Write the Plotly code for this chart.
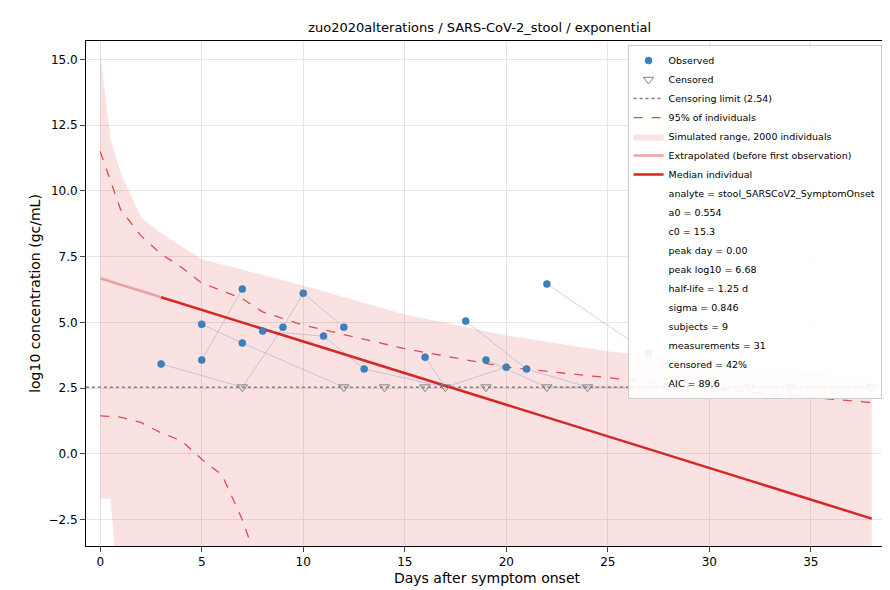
import plotly.graph_objects as go

obs_day = [3,5,5,7,7,8,9,10,11,12,13,16,18,19,20,21,22,27]
obs_val = [3.42,4.93,3.57,6.27,4.22,4.67,4.82,6.11,4.48,4.82,3.23,3.68,5.05,3.57,3.30,3.23,6.46,3.84]
cens_day = [7,12,14,16,17,19,22,24,28,32,34,38]
LOD = 2.54
subjects = [
    [(3,3.42),(7,LOD)],
    [(5,3.57),(7,6.27)],
    [(5,4.93),(7,4.22),(12,LOD)],
    [(7,LOD),(9,4.82),(10,6.11),(12,4.82)],
    [(8,4.67),(11,4.48),(13,3.23),(17,LOD),(20,3.30)],
    [(16,3.68),(17,LOD)],
    [(18,5.05),(21,3.23),(24,LOD)],
    [(19,3.57),(22,LOD),(38,LOD)],
    [(22,6.46),(27,3.84),(28,LOD)],
]
band_t = [0,0.5,1,2,3,4,5,10,15,20,25,30,35,38]
band_hi = [15.3,12.0,10.7,9.0,8.4,7.9,7.4,6.4,5.3,4.5,3.9,3.5,3.1,2.9]
band_lo = [-1.7,-1.7,-6,-6,-6,-6,-6,-6,-6,-6,-6,-6,-6,-6]
up_t = [0,1,2,3,4,5,7,8,10,15,20,25,30,35,38]
up_v = [11.5,9.3,8.3,7.6,7.1,6.5,5.9,5.4,4.9,4.0,3.3,2.9,2.5,2.15,1.95]
lo_t = [0,1,2,3,4,5,6,7,7.5]
lo_v = [1.45,1.4,1.2,0.8,0.5,-0.2,-0.8,-2.5,-3.6]
a0, c0 = 0.554, 6.68
t_med = [3,38]; t_ext = [0,3]
f = lambda t: c0 - 0.2405*t
info = ["analyte = stool_SARSCoV2_SymptomOnset","a0 = 0.554","c0 = 15.3","peak day = 0.00",
        "peak log10 = 6.68","half-life = 1.25 d","sigma = 0.846","subjects = 9",
        "measurements = 31","censored = 42%","AIC = 89.6"]

fig = go.Figure()
fig.add_trace(go.Scatter(x=band_t+band_t[::-1], y=band_hi+band_lo[::-1], fill='toself',
    fillcolor='rgba(230,110,110,0.2)', line=dict(width=0), name='Simulated range, 2000 individuals', legendrank=5))
for s in subjects:
    fig.add_trace(go.Scatter(x=[p[0] for p in s], y=[p[1] for p in s], mode='lines',
        line=dict(color='rgba(120,150,190,0.4)', width=1), showlegend=False, hoverinfo='skip'))
fig.add_trace(go.Scatter(x=[-1,40], y=[LOD,LOD], mode='lines', line=dict(color='gray', dash='dot', width=1.5),
    name='Censoring limit (2.54)', legendrank=3))
fig.add_trace(go.Scatter(x=up_t, y=up_v, mode='lines', line=dict(color='#e34a4a', dash='dash', width=1.3),
    name='95% of individuals', legendrank=4))
fig.add_trace(go.Scatter(x=lo_t, y=lo_v, mode='lines', line=dict(color='#e34a4a', dash='dash', width=1.3),
    showlegend=False))
fig.add_trace(go.Scatter(x=t_ext, y=[f(t) for t in t_ext], mode='lines', line=dict(color='#f0a0a0', width=2.5),
    name='Extrapolated (before first observation)', legendrank=6))
fig.add_trace(go.Scatter(x=t_med, y=[f(t) for t in t_med], mode='lines', line=dict(color='#d62728', width=2.5),
    name='Median individual', legendrank=7))
fig.add_trace(go.Scatter(x=obs_day, y=obs_val, mode='markers', marker=dict(color='#3a82c0', size=7,
    line=dict(color='#2a6aa0', width=0.5)), name='Observed', legendrank=1))
fig.add_trace(go.Scatter(x=cens_day, y=[LOD]*len(cens_day), mode='markers', marker=dict(symbol='triangle-down-open',
    color='gray', size=9), name='Censored', legendrank=2))
for i, t in enumerate(info):
    fig.add_trace(go.Scatter(x=[None], y=[None], mode='lines', line=dict(width=0, color='rgba(0,0,0,0)'),
        name=t, legendrank=8+i))

fig.update_layout(width=890, height=590, template='plotly_white', plot_bgcolor='white',
    margin=dict(l=78, r=10, t=33, b=52),
    title=dict(text='zuo2020alterations / SARS-CoV-2_stool / exponential', x=0.53, y=0.975,
               font=dict(size=13, color='black', family='DejaVu Sans')),
    font=dict(family='DejaVu Sans', size=12, color='black'),
    legend=dict(x=0.992, y=0.992, xanchor='right', yanchor='top', bgcolor='rgba(255,255,255,0.9)',
        bordercolor='#cccccc', borderwidth=1, font=dict(size=9.5), tracegroupgap=0, itemwidth=30))
fig.update_xaxes(range=[-0.7,38.8], dtick=5, title=dict(text='Days after symptom onset', standoff=4),
    showline=True, linecolor='black', mirror=True, ticks='outside', gridcolor='#e5e5e5', zeroline=False, automargin=False)
fig.update_yaxes(range=[-3.5,15.7], tickvals=[-2.5,0,2.5,5,7.5,10,12.5,15],
    ticktext=['−2.5','0.0','2.5','5.0','7.5','10.0','12.5','15.0'], title=dict(text='log10 concentration (gc/mL)', standoff=4),
    showline=True, linecolor='black', mirror=True, ticks='outside', gridcolor='#e5e5e5', zeroline=False, automargin=False)
fig.write_html('out.html')
